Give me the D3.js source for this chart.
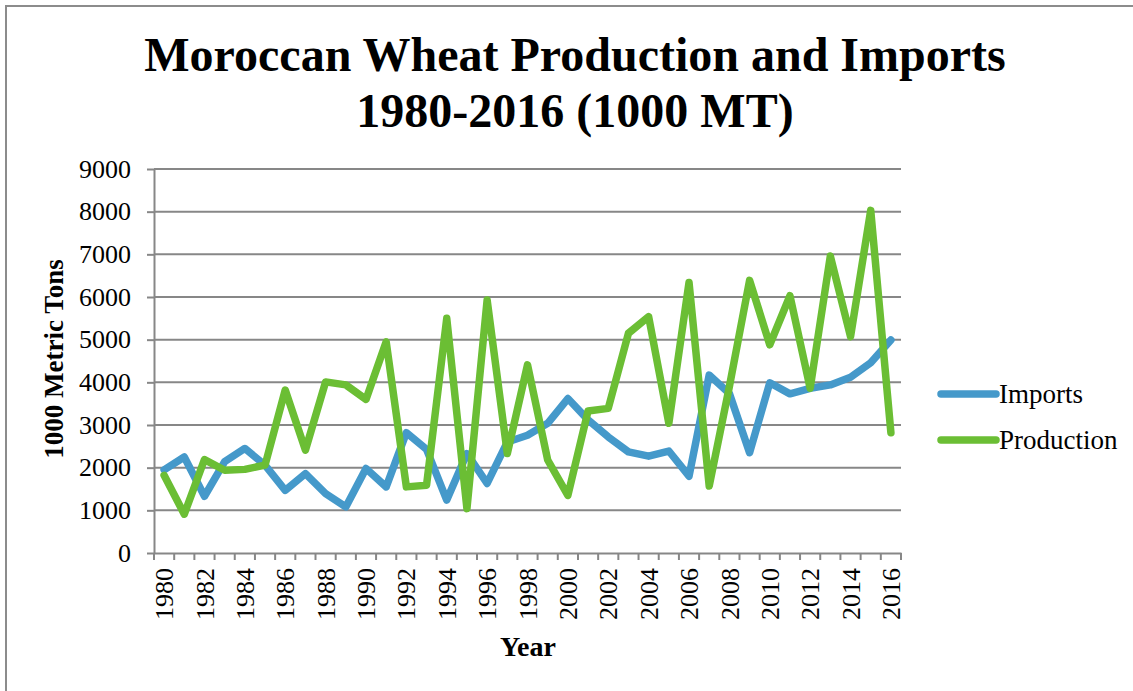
<!DOCTYPE html>
<html>
<head>
  <title>Moroccan Wheat Production and Imports</title>
  <script src="https://d3js.org/d3.v7.min.js"></script>
  <style>
  body {
    margin: 0;
    background: #fff;
  }

  text {
    font-family: "Liberation Serif", "Times New Roman", serif;
    fill: #000;
  }

  .grid line {
    stroke: #878787;
    stroke-width: 2;
  }

  .axis path,
  .axis line {
    stroke: #878787;
    stroke-width: 2;
  }
  </style>
</head>
<body>
  <script>

    var years = d3.range(1980, 2017);

    var imports = [1950, 2250, 1330, 2140, 2450, 2060, 1470, 1860, 1390, 1080,
      1980, 1550, 2820, 2430, 1240, 2330, 1630, 2600, 2760, 3040,
      3620, 3120, 2720, 2370, 2270, 2390, 1800, 4170, 3740, 2350,
      3990, 3730, 3860, 3940, 4120, 4460, 4990];

    var production = [1820, 910, 2190, 1940, 1960, 2060, 3820, 2410, 4010, 3940,
      3600, 4950, 1550, 1590, 5500, 1040, 5930, 2330, 4410, 2180,
      1350, 3330, 3390, 5150, 5540, 3040, 6340, 1570, 3900, 6390,
      4880, 6030, 3860, 6960, 5070, 8030, 2820];

    var yTicks = [0, 1000, 2000, 3000, 4000, 5000, 6000, 7000, 8000, 9000];

    var series = [
      { name: "Imports", color: "#4599CA", values: imports },
      { name: "Production", color: "#6BBE34", values: production }
    ];

    var width = 1133;
    var height = 691;
    var margin = { left: 154, right: 232, top: 169, bottom: 138 };

    var svg = d3.select("body")
      .append("svg")
      .attr("width", width)
      .attr("height", height);

    // chart border
    svg.append("rect")
      .attr("x", 6)
      .attr("y", 6)
      .attr("width", width + 20)
      .attr("height", height + 20)
      .attr("fill", "none")
      .attr("stroke", "#8c8c8c")
      .attr("stroke-width", 2);

    var x = d3.scaleBand()
      .domain(years)
      .range([margin.left, width - margin.right]);

    var y = d3.scaleLinear()
      .domain([0, 9000])
      .range([height - margin.bottom, margin.top]);

    svg.append("g")
      .attr("class", "grid")
      .selectAll("line")
      .data(yTicks.slice(1))
      .enter()
      .append("line")
      .attr("x1", margin.left)
      .attr("x2", width - margin.right)
      .attr("y1", function(d) { return y(d); })
      .attr("y2", function(d) { return y(d); });

    var yAxis = svg.append("g")
      .attr("class", "axis")
      .attr("transform", "translate(" + margin.left + ",0)")
      .call(d3.axisLeft(y).tickValues(yTicks).tickFormat(d3.format("d")).tickSize(7).tickSizeOuter(0).tickPadding(16));
    yAxis.selectAll("text").style("font-size", "26px");

    var xAxis = svg.append("g")
      .attr("class", "axis")
      .attr("transform", "translate(0," + (height - margin.bottom) + ")")
      .call(d3.axisBottom(x).tickSize(0).tickSizeOuter(0).tickFormat(function(d) { return d % 2 === 0 ? d : ""; }));

    // tick marks sit between the categories
    xAxis.selectAll(".sep")
      .data(d3.range(years.length + 1))
      .enter()
      .append("line")
      .attr("x1", function(i) { return margin.left + i * x.step(); })
      .attr("x2", function(i) { return margin.left + i * x.step(); })
      .attr("y1", 0)
      .attr("y2", 7);

    xAxis.selectAll(".tick text")
      .style("font-size", "26px")
      .attr("transform", "rotate(-90)")
      .attr("text-anchor", "end")
      .attr("x", -15)
      .attr("y", 0)
      .attr("dy", "0.35em");

    var line = d3.line()
      .x(function(d, i) { return x(years[i]) + x.bandwidth() / 2; })
      .y(function(d) { return y(d); });

    svg.append("g")
      .selectAll("path")
      .data(series)
      .enter()
      .append("path")
      .attr("d", function(s) { return line(s.values); })
      .attr("fill", "none")
      .attr("stroke", function(s) { return s.color; })
      .attr("stroke-width", 7.5)
      .attr("stroke-linejoin", "round")
      .attr("stroke-linecap", "round");

    // legend
    var legend = svg.append("g")
      .selectAll("g")
      .data(series)
      .enter()
      .append("g")
      .attr("transform", function(s, i) { return "translate(941," + (394 + i * 46) + ")"; });

    legend.append("line")
      .attr("x1", 0)
      .attr("x2", 55)
      .attr("stroke", function(s) { return s.color; })
      .attr("stroke-width", 7.5)
      .attr("stroke-linecap", "round");

    legend.append("text")
      .attr("x", 58)
      .attr("dy", "0.35em")
      .style("font-size", "27px")
      .text(function(s) { return s.name; });

    // titles
    svg.append("text")
      .attr("x", 575)
      .attr("y", 71)
      .attr("text-anchor", "middle")
      .style("font-size", "48px")
      .style("font-weight", "bold")
      .text("Moroccan Wheat Production and Imports");

    svg.append("text")
      .attr("x", 575)
      .attr("y", 127)
      .attr("text-anchor", "middle")
      .style("font-size", "48px")
      .style("font-weight", "bold")
      .text("1980-2016 (1000 MT)");

    svg.append("text")
      .attr("transform", "translate(63,359) rotate(-90)")
      .attr("text-anchor", "middle")
      .style("font-size", "27px")
      .style("font-weight", "bold")
      .text("1000 Metric Tons");

    svg.append("text")
      .attr("x", 528)
      .attr("y", 656)
      .attr("text-anchor", "middle")
      .style("font-size", "28px")
      .style("font-weight", "bold")
      .text("Year");

  </script>
</body>
</html>
